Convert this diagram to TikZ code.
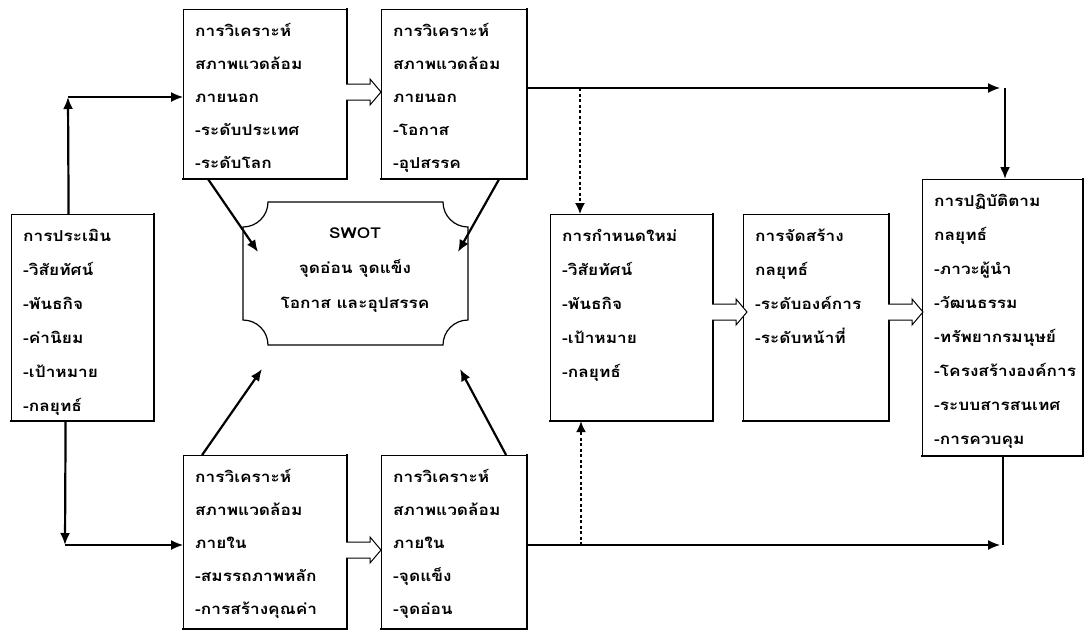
\documentclass[tikz,border=0pt]{standalone}
\usepackage{fontspec}
\newfontfamily\thai[Script=Thai, FakeStretch=1.15]{Loma}
\usetikzlibrary{arrows.meta,calc}
\tikzset{
  box/.style={draw, line width=1.2pt, fill=white, inner sep=0pt},
  sedge/.style={line width=2.4pt, line cap=rect},
  txt/.style={inner sep=0pt, align=left},
  tip/.style={-{Latex[length=12pt,width=10pt]}},
  thickln/.style={line width=2.2pt},
  thinln/.style={line width=1.3pt},
  dasharr/.style={line width=1.6pt, dash pattern=on 3pt off 2.5pt, -{Latex[length=11pt,width=10pt]}},
  blk/.style={draw, line width=1pt, fill=white},
}
\newcommand\mybox[7]{%
  \node[box, minimum width=#4pt, minimum height=#5pt, anchor=north west] (#1) at (#2,#3) {};
  \draw[sedge] (#1.north east) -- (#1.south east) -- (#1.south west);
  \node[txt, anchor=north west, font={\thai\bfseries\fontsize{15}{#6}\selectfont}] (#1t)
    at ([xshift=12pt,yshift=-7pt]#1.north west) {\rule{0pt}{20pt}#7};
}
\newcommand\blockarrow[1]{%
  \draw[blk] (#1) ++(0,-8) -- ++(24,0) -- ++(0,-5) -- ++(11,13) -- ++(-11,13) -- ++(0,-5) -- ++(-24,0);
}
\begin{document}
\begin{tikzpicture}[x=1pt,y=-1pt]
\useasboundingbox[fill=white] (0,0) rectangle (1088,630);

\mybox{L}{11}{214}{142}{206}{34}{การประเมิน\\-วิสัยทัศน์\\-พันธกิจ\\-ค่านิยม\\-เป้าหมาย\\-กลยุทธ์}
\mybox{T1}{183}{9}{163}{169}{33}{การวิเคราะห์\\สภาพแวดล้อม\\ภายนอก\\-ระดับประเทศ\\-ระดับโลก}
\mybox{T2}{381}{9}{145}{169}{33}{การวิเคราะห์\\สภาพแวดล้อม\\ภายนอก\\-โอกาส\\-อุปสรรค}
\mybox{B1}{183}{455}{163}{173}{33}{การวิเคราะห์\\สภาพแวดล้อม\\ภายใน\\-สมรรถภาพหลัก\\-การสร้างคุณค่า}
\mybox{B2}{381}{455}{145}{173}{33}{การวิเคราะห์\\สภาพแวดล้อม\\ภายใน\\-จุดแข็ง\\-จุดอ่อน}
\mybox{M}{550}{214}{162}{206}{34}{การกำหนดใหม่\\-วิสัยทัศน์\\-พันธกิจ\\-เป้าหมาย\\-กลยุทธ์}
\mybox{J}{743}{214}{145}{206}{34}{การจัดสร้าง\\กลยุทธ์\\-ระดับองค์การ\\-ระดับหน้าที่}
\mybox{R}{922}{179}{160}{276}{34}{การปฏิบัติตาม\\กลยุทธ์\\-ภาวะผู้นำ\\-วัฒนธรรม\\-ทรัพยากรมนุษย์\\-โครงสร้างองค์การ\\-ระบบสารสนเทศ\\-การควบคุม}

% SWOT shape
\node[inner sep=0pt, minimum width=226pt, minimum height=143pt] (S) at (355,273.5) {};
\draw[line width=1.2pt] (268,202) -- (443,202)
  .. controls (443,215.8) and (454.2,227) .. (468,227) -- (468,320)
  .. controls (454.2,320) and (443,331.2) .. (443,345) -- (268,345)
  .. controls (268,331.2) and (256.8,320) .. (243,320) -- (243,227)
  .. controls (256.8,227) and (268,215.8) .. (268,202) -- cycle;
\node[txt, align=center, anchor=north, font={\thai\bfseries\fontsize{15}{35}\selectfont}] (St)
  at ([yshift=-16pt]S.north) {\rule{0pt}{20pt}SWOT\\จุดอ่อน จุดแข็ง\\โอกาส และอุปสรรค};

% left connectors
\coordinate (c1) at (68,97);
\coordinate (c2) at (65,545);
\draw[thickln, tip] ([xshift=-14pt]L.north) -- (c1);
\draw[thinln, tip] (c1) -- (c1 -| T1.west);
\draw[thickln, tip] ([xshift=-17pt]L.south) -- (c2);
\draw[thinln, tip] (c2) -- (c2 -| B1.west);

% block arrows
\coordinate (ba1) at (346,92);
\coordinate (ba2) at (346,550);
\coordinate (ba3) at (712,312);
\coordinate (ba4) at (888,312);
\blockarrow{ba1}
\blockarrow{ba2}
\blockarrow{ba3}
\blockarrow{ba4}

% right connectors
\coordinate (c3) at (1000,88);
\coordinate (c4) at (1000,545);
\coordinate (c3v) at (1005,88);
\coordinate (c4v) at (1003,545);
\draw[thinln, tip] (c3 -| T2.east) -- (c3);
\draw[thickln, tip] (c3v) -- (c3v |- R.north);
\draw[thinln, tip] (c4 -| B2.east) -- (c4);
\draw[thickln] (c4v |- R.south) -- (c4v);

% dashed
\coordinate (d1) at (580,88);
\coordinate (d2) at (581,545);
\draw[dasharr] (d1) -- (d1 |- M.north);
\draw[dasharr] (d2) -- (d2 |- M.south);

% diagonals to SWOT
\coordinate (s1) at (258,252);
\coordinate (s2) at (458,252);
\coordinate (s3) at (262,369);
\coordinate (s4) at (460,369);
\draw[thickln, tip] ([xshift=-57pt]T1.south) -- (s1);
\draw[thickln, tip] ([xshift=45pt]T2.south) -- (s2);
\draw[thickln, tip] ([xshift=-63pt]B1.north) -- (s3);
\draw[thickln, tip] ([xshift=52pt]B2.north) -- (s4);
\end{tikzpicture}
\end{document}
